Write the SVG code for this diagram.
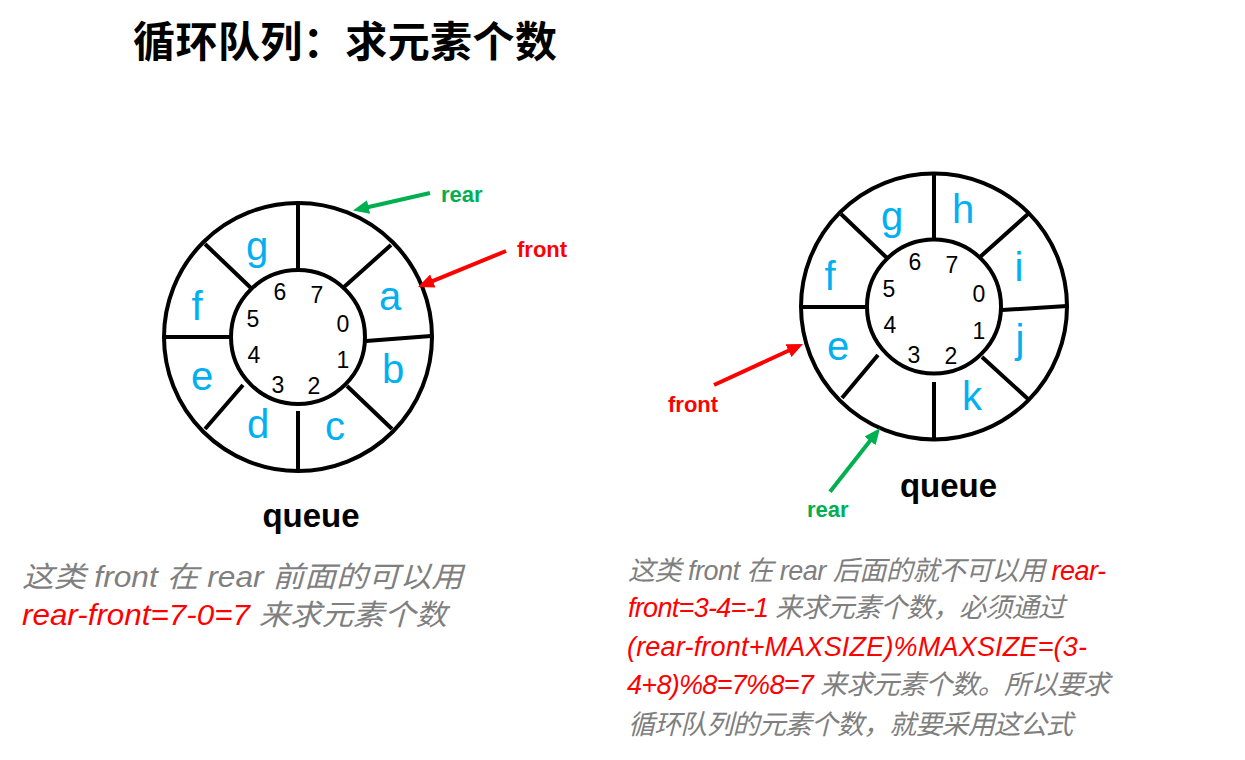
<svg xmlns="http://www.w3.org/2000/svg" width="1245" height="760" viewBox="0 0 1245 760">
<style>
.ring{fill:none;stroke:#000;stroke-width:4}
.div{stroke:#000;stroke-width:4;fill:none}
.cell{font-family:"Liberation Sans",Arial,sans-serif;font-size:40px;fill:#00B0F0;text-anchor:middle}
.idx{font-family:"Liberation Sans",Arial,sans-serif;font-size:23px;fill:#000;text-anchor:middle}
.lbl{font-family:"Liberation Sans",Arial,sans-serif;font-size:22px;font-weight:bold}
.green{fill:#00B050}
.red{fill:#FF0000}
.q{font-family:"Liberation Sans",Arial,sans-serif;font-size:33px;font-weight:bold;fill:#000;text-anchor:middle}
.note{font-family:"Liberation Sans","Noto Sans CJK SC",sans-serif;font-size:29px;font-style:italic;fill:#7F7F7F}
.noteR{font-family:"Liberation Sans","Noto Sans CJK SC",sans-serif;font-size:27px;font-style:italic;fill:#7F7F7F}
.title{font-family:"Noto Sans CJK SC",sans-serif;font-size:42px;font-weight:bold;fill:#000}
.arrG{stroke:#00B050;stroke-width:4;fill:none}
.arrR{stroke:#FF0000;stroke-width:4;fill:none}
</style>
<defs>
<marker id="hG" markerUnits="userSpaceOnUse" markerWidth="17" markerHeight="14" refX="1" refY="7" orient="auto"><path d="M0,0 L16,7 L0,14 z" fill="#00B050"/></marker>
<marker id="hR" markerUnits="userSpaceOnUse" markerWidth="17" markerHeight="14" refX="1" refY="7" orient="auto"><path d="M0,0 L16,7 L0,14 z" fill="#FF0000"/></marker>
</defs>
<rect width="1245" height="760" fill="#fff"/>

<g id="title"><text class="title" x="133" y="57" textLength="424">循环队列：求元素个数</text></g>

<g id="queue-left">
<circle class="ring" cx="298" cy="337" r="134"/>
<circle class="ring" cx="298" cy="337" r="67"/>
<path class="div" d="M298,203 V270 M344,287 L391,245 M366,341 L431,336 M347,386 L392,429 M298,411 V472 M243,385 L205,429 M165,337 H231 M205,244 L251,288"/>
<text class="cell" x="390" y="310">a</text>
<text class="cell" x="393" y="383">b</text>
<text class="cell" x="335" y="440">c</text>
<text class="cell" x="258" y="438">d</text>
<text class="cell" x="202" y="390">e</text>
<text class="cell" x="197" y="320">f</text>
<text class="cell" x="257" y="260">g</text>
<text class="idx" x="343" y="332">0</text>
<text class="idx" x="343" y="368">1</text>
<text class="idx" x="314" y="394">2</text>
<text class="idx" x="278" y="393">3</text>
<text class="idx" x="254" y="363">4</text>
<text class="idx" x="253" y="327">5</text>
<text class="idx" x="280" y="300">6</text>
<text class="idx" x="317" y="303">7</text>
<text class="q" x="311" y="527">queue</text>
</g>

<g id="queue-right">
<circle class="ring" cx="934" cy="306.5" r="133"/>
<circle class="ring" cx="934" cy="306.5" r="67"/>
<path class="div" d="M934,174 V240 M980,257 L1028,214 M1002,310 L1067,306 M982,357 L1028,399 M934,382 V439 M878,355 L842,398 M801,307 H867 M841,214 L887,258"/>
<text class="cell" x="1019" y="281">i</text>
<text class="cell" x="1020" y="353">j</text>
<text class="cell" x="972" y="410">k</text>
<text class="cell" x="838" y="360">e</text>
<text class="cell" x="830" y="290">f</text>
<text class="cell" x="892" y="230">g</text>
<text class="cell" x="963" y="223">h</text>
<text class="idx" x="979" y="302">0</text>
<text class="idx" x="979" y="339">1</text>
<text class="idx" x="951" y="364">2</text>
<text class="idx" x="914" y="363">3</text>
<text class="idx" x="890" y="333">4</text>
<text class="idx" x="889" y="297">5</text>
<text class="idx" x="915" y="270">6</text>
<text class="idx" x="952" y="273">7</text>
<text class="q" x="948.5" y="497">queue</text>
</g>

<g id="connectors">
<line class="arrG" x1="430" y1="193" x2="367.6" y2="207.2" marker-end="url(#hG)"/>
<line class="arrR" x1="506" y1="251" x2="431.9" y2="281.3" marker-end="url(#hR)"/>
<line class="arrR" x1="714" y1="385" x2="789.4" y2="350.3" marker-end="url(#hR)"/>
<line class="arrG" x1="830" y1="491.7" x2="870.7" y2="440.1" marker-end="url(#hG)"/>
</g>

<g id="labels">
<text class="lbl green" x="441" y="202">rear</text>
<text class="lbl red" x="517" y="257">front</text>
<text class="lbl red" x="668" y="412">front</text>
<text class="lbl green" x="807" y="517">rear</text>
</g>

<g id="note-left">
<text class="note" x="22" y="587" textLength="441" lengthAdjust="spacingAndGlyphs">这类 front 在 rear 前面的可以用</text>
<text class="note" x="22" y="625" textLength="425" lengthAdjust="spacingAndGlyphs"><tspan class="red">rear-front=7-0=7</tspan> 来求元素个数</text>
</g>

<g id="note-right">
<text class="noteR" x="628" y="580" textLength="478">这类 front 在 rear 后面的就不可以用 <tspan class="red">rear-</tspan></text>
<text class="noteR" x="628" y="617" textLength="437"><tspan class="red">front=3-4=-1</tspan> 来求元素个数，必须通过</text>
<text class="noteR" x="627" y="656" textLength="460"><tspan class="red">(rear-front+MAXSIZE)%MAXSIZE=(3-</tspan></text>
<text class="noteR" x="627" y="694" textLength="483"><tspan class="red">4+8)%8=7%8=7</tspan> 来求元素个数。所以要求</text>
<text class="noteR" x="628" y="734" textLength="445">循环队列的元素个数，就要采用这公式</text>
</g>
</svg>
